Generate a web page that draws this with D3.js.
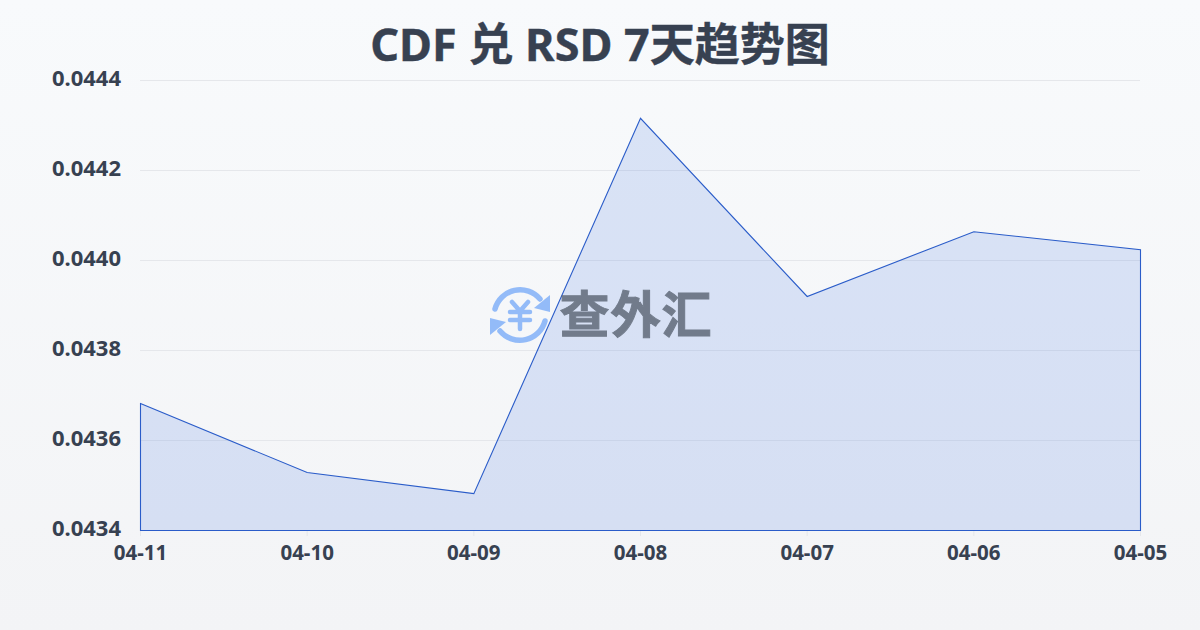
<!DOCTYPE html>
<html><head><meta charset="utf-8">
<script src="https://cdn.jsdelivr.net/npm/d3@7/dist/d3.min.js"></script>
<style>html,body{margin:0;padding:0;background:#f5f6f8}svg{display:block}text{font-family:"Noto Sans","Noto Sans CJK JP",sans-serif}</style>
</head><body><div id="c"></div>
<script>
const titleText = "CDF 兑 RSD 7天趋势图";
const categories = ["04-11","04-10","04-09","04-08","04-07","04-06","04-05"];
const values = [0.043682,0.043529,0.043482,0.044316,0.04392,0.044064,0.044024];
const yTicks = [0.0434,0.0436,0.0438,0.0440,0.0442,0.0444];
const brand = "查外汇";

const W=1200,H=630,m={l:140,r:1140,t:80,b:530};
const svg=d3.select("#c").append("svg").attr("width",W).attr("height",H);
const defs=svg.append("defs");
const bg=defs.append("linearGradient").attr("id","bg").attr("x1",0).attr("y1",0).attr("x2",0).attr("y2",1);
bg.append("stop").attr("offset",0).attr("stop-color","#f8fafc");
bg.append("stop").attr("offset",1).attr("stop-color","#f3f4f6");
svg.append("rect").attr("width",W).attr("height",H).attr("fill","url(#bg)");

const x=d3.scalePoint().domain(categories).range([m.l,m.r]);
const y=d3.scaleLinear().domain([0.0434,0.0444]).range([m.b,m.t]);

svg.append("text").attr("x",600).attr("y",61).attr("text-anchor","middle")
  .attr("font-size",45).attr("font-weight",700).attr("fill","#374151").attr("stroke","#374151").attr("stroke-width",.4).text(titleText);

const gy=svg.append("g");
gy.selectAll("line").data(yTicks).join("line")
  .attr("x1",m.l).attr("x2",m.r).attr("y1",d=>Math.round(y(d))+.5).attr("y2",d=>Math.round(y(d))+.5)
  .attr("stroke","#e5e7eb").attr("stroke-width",1);
gy.selectAll("text").data(yTicks).join("text")
  .attr("x",121).attr("y",d=>y(d)+6).attr("text-anchor","end")
  .attr("font-size",22).attr("font-weight",700).attr("fill","#374151").text(d=>d.toFixed(4));

const gx=svg.append("g");
gx.selectAll("line").data(categories).join("line")
  .attr("x1",d=>x(d)+.5).attr("x2",d=>x(d)+.5).attr("y1",m.b).attr("y2",m.b+6)
  .attr("stroke","#e5e7eb");
gx.selectAll("text").data(categories).join("text")
  .attr("x",d=>x(d)+.5).attr("y",560).attr("text-anchor","middle")
  .attr("font-size",20.5).attr("font-weight",700).attr("fill","#374151").text(d=>d);

const area=d3.area().x((d,i)=>x(categories[i])+.5).y0(y(0.0434)+.5).y1(d=>y(d)+.5);
svg.append("path").attr("d",area(values)).attr("fill","#3f6fe0").attr("fill-opacity",.16)
  .attr("stroke","#2a5cc9").attr("stroke-width",1.1);

// watermark
const wm=svg.append("g");
const ic=wm.append("g").attr("transform","translate(520,315)").attr("fill","none").attr("stroke","#93bbf8").attr("stroke-linecap","round");
ic.append("path").attr("d","M-25,-6 A26,26 0 0 1 20,-16").attr("stroke-width",5.5);
ic.append("path").attr("d","M25,6 A26,26 0 0 1 -20,16").attr("stroke-width",5.5);
ic.append("path").attr("d","M30,-20 L30,-3 L14,-7 Z").attr("fill","#93bbf8").attr("stroke","none");
ic.append("path").attr("d","M-30,20 L-30,3 L-14,7 Z").attr("fill","#93bbf8").attr("stroke","none");
ic.append("path").attr("d","M-8,-13 L0,-4 L8,-13 M-10,-3 H10 M-10,5 H10 M0,-3 V14").attr("stroke-width",4.5);
wm.append("text").attr("x",635.5).attr("y",333).attr("text-anchor","middle")
  .attr("font-size",50).attr("font-weight",700).attr("fill","#4b5563").attr("stroke","#4b5563").attr("stroke-width",1).attr("opacity",.72)
  .attr("textLength",152).text(brand);
</script></body></html>
